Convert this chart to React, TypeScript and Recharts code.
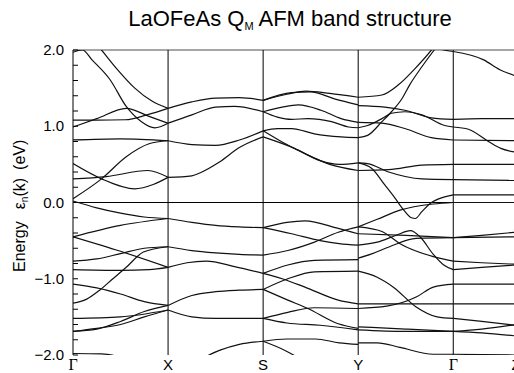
import { LineChart, Line, XAxis, YAxis, ReferenceLine } from 'recharts';

type Pt = [number, number];

// k-path positions of the high-symmetry points and their labels
const kTicks = [0, 1, 2, 3, 4, 4.66];
const kLabels = ['Γ', 'X', 'S', 'Y', 'Γ', 'Z'];
const kLines = [1, 2, 3, 4];

const energyTicks = [
  -2.0, -1.8, -1.6, -1.4, -1.2, -1.0, -0.8, -0.6, -0.4, -0.2, 0, 0.2, 0.4, 0.6, 0.8, 1.0, 1.2, 1.4, 1.6, 1.8, 2.0,
];

// bands, one list per path segment, [k, E(eV)]
const bandsGX: Pt[][] = [
  [[0, 1.97], [0.1, 2.0], [0.2, 1.87], [0.39, 1.61], [0.56, 1.26], [0.72, 1.06], [0.86, 0.98], [1, 1.04]],
  [[0.26, 2.06], [0.3, 2.0], [0.47, 1.74], [0.65, 1.5], [0.83, 1.33], [1, 1.235]],
  [[0, 1.08], [0.25, 1.08], [0.55, 1.085], [0.78, 1.15], [1, 1.235]],
  [[0, 0.99], [0.25, 1.1], [0.56, 1.235], [0.8, 1.13], [1, 1.04]],
  [[0, 0.82], [0.5, 0.835], [1, 0.81]],
  [[0, 0.51], [0.3, 0.31], [0.65, 0.18], [0.85, 0.24], [1, 0.33]],
  [[0, 0.31], [0.35, 0.34], [0.79, 0.42], [1, 0.33]],
  [[0, 0.05], [0.3, 0.31], [0.56, 0.6], [0.8, 0.77], [1, 0.81]],
  [[0, 0.02], [0.25, -0.07], [0.5, -0.14], [0.75, -0.19], [1, -0.21]],
  [[0, -0.45], [0.5, -0.3], [1, -0.21]],
  [[0, -0.45], [0.5, -0.64], [1, -0.85]],
  [[0, -0.77], [0.25, -0.74], [0.5, -0.67], [0.75, -0.6], [1, -0.58]],
  [[0, -0.88], [0.5, -0.89], [0.8, -0.88], [1, -0.85]],
  [[0, -1.32], [0.14, -1.27], [0.28, -1.15], [0.42, -1.0], [0.56, -0.85], [0.74, -0.65], [1, -0.58]],
  [[0, -1.07], [0.25, -1.12], [0.5, -1.2], [0.75, -1.3], [1, -1.35]],
  [[0, -1.52], [0.5, -1.5], [1, -1.41]],
  [[0, -1.69], [0.25, -1.66], [0.5, -1.56], [0.75, -1.43], [1, -1.35]],
  [[0, -1.69], [0.25, -1.65], [0.5, -1.6], [0.75, -1.5], [1, -1.41]],
  [[0, -1.98], [0.3, -1.985], [0.55, -2.04]],
];

const bandsXS: Pt[][] = [
  [[1, 1.235], [1.25, 1.32], [1.5, 1.37], [1.75, 1.375], [2, 1.34]],
  [[1, 1.04], [1.25, 1.15], [1.5, 1.25], [1.7, 1.26], [2, 1.19]],
  [[1, 0.81], [1.25, 0.76], [1.5, 0.75], [1.75, 0.82], [2, 0.94]],
  [[1, 0.33], [1.25, 0.35], [1.34, 0.39], [1.54, 0.53], [1.75, 0.72], [2, 0.86]],
  [[1, -0.21], [1.25, -0.26], [1.5, -0.3], [1.75, -0.32], [2, -0.33]],
  [[1, -0.58], [1.25, -0.63], [1.5, -0.66], [1.75, -0.68], [2, -0.69]],
  [[1, -0.85], [1.2, -0.79], [1.4, -0.77], [1.7, -0.84], [2, -0.93]],
  [[1, -1.35], [1.25, -1.22], [1.5, -1.17], [1.75, -1.15], [2, -1.14]],
  [[1, -1.41], [1.25, -1.5], [1.5, -1.52], [1.75, -1.52], [2, -1.52]],
  [[1.35, -2.05], [1.54, -1.94], [1.75, -1.86], [2, -1.82]],
];

const bandsSY: Pt[][] = [
  [[2, 1.34], [2.25, 1.42], [2.45, 1.46], [2.7, 1.43], [3, 1.38]],
  [[2, 1.34], [2.3, 1.44], [2.5, 1.45], [2.75, 1.36], [3, 1.28]],
  [[2, 1.19], [2.2, 1.25], [2.37, 1.28], [2.61, 1.21], [2.82, 1.1], [3, 1.05]],
  [[2, 1.19], [2.15, 1.12], [2.3, 1.09], [2.47, 1.1], [2.72, 1.06], [2.9, 0.99], [3, 0.98]],
  [[2, 0.94], [2.15, 0.97], [2.3, 0.97], [2.54, 0.9], [2.82, 0.86], [3, 0.85]],
  [[2, 0.94], [2.19, 0.8], [2.44, 0.64], [2.7, 0.5], [3, 0.42]],
  [[2, 0.86], [2.33, 0.71], [2.6, 0.55], [2.8, 0.5], [3, 0.52]],
  [[2, -0.33], [2.25, -0.26], [2.44, -0.24], [2.79, -0.34], [3, -0.41]],
  [[2, -0.33], [2.3, -0.41], [2.6, -0.5], [2.8, -0.54], [3, -0.56]],
  [[2, -0.69], [2.26, -0.63], [2.54, -0.52], [2.79, -0.39], [3, -0.32]],
  [[2, -0.93], [2.26, -0.82], [2.54, -0.76], [3, -0.75]],
  [[2, -0.93], [2.2, -1.0], [2.44, -1.11], [2.79, -1.28], [3, -1.33]],
  [[2, -1.14], [2.26, -1.0], [2.54, -0.91], [3, -0.9]],
  [[2, -1.14], [2.26, -1.28], [2.47, -1.39], [2.79, -1.59], [3, -1.65]],
  [[2, -1.52], [2.26, -1.44], [2.54, -1.38], [3, -1.39]],
  [[2, -1.52], [2.25, -1.58], [2.6, -1.61], [3, -1.67]],
  [[2, -1.82], [2.25, -1.79], [2.55, -1.79], [2.8, -1.84], [3, -1.86]],
  [[2, -1.82], [2.23, -1.94], [2.39, -2.05]],
];

const bandsYG: Pt[][] = [
  [[3, 1.38], [3.25, 1.41], [3.42, 1.54], [3.6, 1.76], [3.77, 2.0], [3.82, 2.08]],
  [[3, 0.85], [3.1, 0.88], [3.25, 1.06], [3.35, 1.19], [3.46, 1.36], [3.54, 1.54], [3.67, 1.78], [3.8, 2.0], [3.85, 2.08]],
  [[3.82, 2.03], [3.9, 2.0], [4, 1.98]],
  [[3, 0.98], [3.1, 1.01], [3.25, 1.1], [3.35, 1.17], [3.49, 1.19], [3.67, 1.15], [3.91, 1.01], [4, 0.99]],
  [[3, 1.27], [3.28, 1.25], [3.49, 1.21], [3.77, 1.11], [4, 1.09]],
  [[3, 1.05], [3.25, 1.04], [3.49, 0.97], [3.77, 0.85], [4, 0.82]],
  [[3, 0.52], [3.1, 0.51], [3.32, 0.4], [3.67, 0.31], [4, 0.3]],
  [[3, 0.42], [3.32, 0.43], [3.67, 0.49], [4, 0.5]],
  [[3, 0.52], [3.14, 0.45], [3.28, 0.23], [3.38, 0.07], [3.48, -0.1], [3.56, -0.2], [3.6, -0.21], [3.67, -0.12], [3.76, -0.01], [3.9, 0.07], [4, 0.1]],
  [[3, -0.32], [3.2, -0.22], [3.44, -0.1], [3.79, -0.02], [4, 0]],
  [[3, -0.32], [3.25, -0.38], [3.44, -0.54], [3.79, -0.71], [4, -0.77]],
  [[3, -0.41], [3.5, -0.43], [4, -0.46]],
  [[3, -0.56], [3.2, -0.52], [3.4, -0.43], [3.55, -0.37], [3.65, -0.45], [3.79, -0.68], [3.9, -0.82], [4, -0.88]],
  [[3, -0.73], [3.15, -0.67], [3.33, -0.58], [3.61, -0.47], [4, -0.46]],
  [[3, -0.9], [3.2, -0.98], [3.37, -1.11], [3.61, -1.37], [3.83, -1.5], [4, -1.52]],
  [[3, -1.33], [3.5, -1.33], [4, -1.33]],
  [[3, -1.39], [3.3, -1.36], [3.61, -1.24], [3.79, -1.11], [4, -1.07]],
  [[3, -1.63], [3.5, -1.66], [4, -1.69]],
  [[3, -1.67], [3.5, -1.69], [4, -1.69]],
  [[3, -1.84], [3.2, -1.84], [3.44, -1.9], [3.79, -1.99], [4, -1.99]],
];

const bandsGZ: Pt[][] = [
  [[4, 1.98], [4.32, 1.87], [4.49, 1.74], [4.66, 1.66]],
  [[4, 1.09], [4.3, 1.1], [4.66, 1.1]],
  [[4, 0.99], [4.16, 0.96], [4.37, 0.8], [4.5, 0.71], [4.66, 0.66]],
  [[4, 0.82], [4.66, 0.81]],
  [[4, 0.5], [4.66, 0.5]],
  [[4, 0.3], [4.66, 0.29]],
  [[4, 0.1], [4.66, 0.1]],
  [[4, 0], [4.66, 0]],
  [[4, -0.46], [4.3, -0.43], [4.66, -0.39]],
  [[4, -0.46], [4.66, -0.45]],
  [[4, -0.77], [4.3, -0.79], [4.66, -0.81]],
  [[4, -0.88], [4.3, -0.85], [4.66, -0.82]],
  [[4, -1.07], [4.66, -1.07]],
  [[4, -1.33], [4.66, -1.33]],
  [[4, -1.52], [4.3, -1.56], [4.66, -1.61]],
  [[4, -1.69], [4.3, -1.66], [4.66, -1.6]],
  [[4, -1.69], [4.3, -1.71], [4.66, -1.75]],
  [[4, -1.99], [4.66, -2.0]],
];

const allBands = [...bandsGX, ...bandsXS, ...bandsSY, ...bandsYG, ...bandsGZ];

const sans = '"Liberation Sans", Arial, sans-serif';

const fmtEnergy = (v: number) => (v < 0 ? '\u2212' + Math.abs(v).toFixed(1) : v.toFixed(1));

const EnergyTick = ({ x, y, payload }: any) => {
  const v = payload.value;
  const major = Math.abs(v - Math.round(v)) < 1e-6;
  return (
    <g>
      <line x1={x} x2={x + 5} y1={y} y2={y} stroke="#000" />
      {major && (
        <text x={x - 9} y={y} dy={5} textAnchor="end" fontSize={15} fontFamily={sans} fill="#000">
          {fmtEnergy(v)}
        </text>
      )}
    </g>
  );
};

const KTick = ({ x, y, index }: any) => {
  const label = kLabels[index] ?? '';
  const serif = label === 'Γ';
  return (
    <text
      x={x}
      y={y}
      dy={15}
      textAnchor="middle"
      fontSize={serif ? 16 : 15}
      fontFamily={serif ? '"Liberation Serif", "Times New Roman", serif' : sans}
      fill="#000"
    >
      {label}
    </text>
  );
};

export default function App() {
  return (
    <div
      style={{
        position: 'absolute',
        left: 0,
        top: 0,
        width: 514,
        height: 373,
        overflow: 'hidden',
        background: '#fff',
        fontFamily: sans,
      }}
    >
      <LineChart width={530} height={373} margin={{ top: 50, right: 14, bottom: 0, left: 0 }}>
        <XAxis
          type="number"
          dataKey="k"
          domain={[0, 4.66]}
          ticks={kTicks}
          interval={0}
          allowDataOverflow
          axisLine={false}
          tickLine={false}
          tickSize={0}
          tickMargin={0}
          height={18}
          tick={<KTick />}
        />
        <YAxis
          type="number"
          domain={[-2, 2]}
          ticks={energyTicks}
          interval={0}
          allowDataOverflow
          width={73}
          axisLine={{ stroke: '#000', strokeWidth: 1 }}
          tickLine={false}
          tickSize={0}
          tickMargin={0}
          tick={<EnergyTick />}
        />
        <ReferenceLine y={2} stroke="#888" strokeWidth={1.5} />
        <ReferenceLine y={0} stroke="#000" strokeWidth={1} />
        {kLines.map((k) => (
          <ReferenceLine key={k} x={k} stroke="#000" strokeWidth={1} />
        ))}
        {allBands.map((band, i) => (
          <Line
            key={`band-${i}`}
            data={band.map(([k, e]) => ({ k, e }))}
            dataKey="e"
            type="monotone"
            stroke="#111"
            strokeWidth={1.2}
            dot={false}
            activeDot={false}
            isAnimationActive={false}
          />
        ))}
      </LineChart>

      <svg width={514} height={373} style={{ position: 'absolute', left: 0, top: 0, pointerEvents: 'none' }}>
        <text x={290} y={26} textAnchor="middle" fontSize={22} fontFamily={sans} fill="#000">
          LaOFeAs Q
          <tspan fontSize={11} dy={4}>
            M
          </tspan>
          <tspan dy={-4}> AFM band structure</tspan>
        </text>
        <text transform="translate(25,272) rotate(-90)" fontSize={16} fontFamily={sans} fill="#000">
          <tspan>Energy</tspan>
          <tspan dx={12}>ε</tspan>
          <tspan fontSize={10} dy={3}>
            n
          </tspan>
          <tspan dy={-3}>(k)</tspan>
          <tspan dx={8}>(eV)</tspan>
        </text>
      </svg>
    </div>
  );
}
